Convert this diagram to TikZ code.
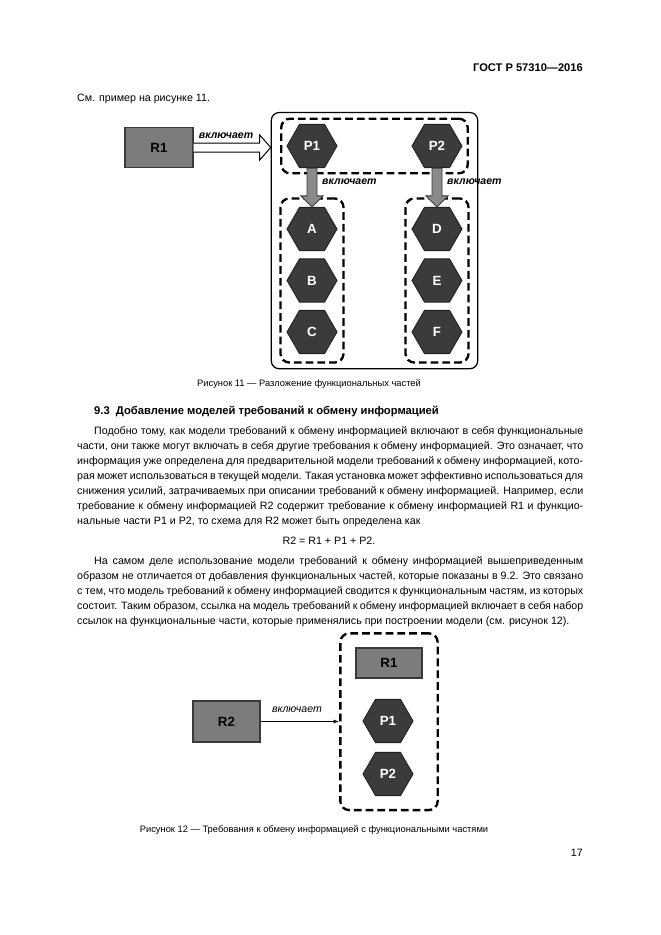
\documentclass[tikz,border=0pt]{standalone}
\usepackage{fontspec}
\setmainfont{Liberation Sans}
\usetikzlibrary{shapes.geometric,fit,calc,arrows.meta}
\definecolor{boxgray}{HTML}{7C7C7C}
\definecolor{boxedge}{HTML}{3A3A3A}
\definecolor{hexfill}{HTML}{3B3B3B}
\definecolor{hexedge}{HTML}{222222}
\definecolor{arrgray}{HTML}{8A8A8A}
\newcommand{\jl}[1]{\makebox[455.4pt][s]{#1}}
\newcommand{\jli}[1]{\makebox[440.1pt][s]{#1}}
\begin{document}
\begin{tikzpicture}[x=0.9pt,y=-0.9pt,
  bodytext/.style={inner sep=0pt,anchor=base west,font=\fontsize{9.6pt}{13.5pt}\selectfont},
  captext/.style={inner sep=0pt,anchor=base,font=\fontsize{8.4pt}{10pt}\selectfont},
  rbox/.style={draw=boxedge,fill=boxgray,line width=1.2pt,inner sep=0pt,font=\fontsize{12pt}{14pt}\selectfont\bfseries,text=black},
  hexnode/.style={regular polygon,regular polygon sides=6,minimum size=45pt,inner sep=0pt,fill=hexfill,draw=hexedge,line width=0.8pt,text=white,font=\fontsize{12pt}{14pt}\selectfont\bfseries},
  dashbox/.style={draw=black,line width=2.1pt,dash pattern=on 7pt off 3.6pt,rounded corners=8pt},
  outerbox/.style={draw=black,line width=1.1pt,rounded corners=7pt},
  incl/.style={inner sep=0pt,font=\fontsize{9.5pt}{11pt}\selectfont\bfseries\itshape},
  inclthin/.style={inner sep=0pt,font=\fontsize{9.5pt}{11pt}\selectfont\itshape},
  hollowarrow/.style={draw=black,fill=white,line width=0.9pt,line join=miter},
  grayarrow/.style={draw=boxedge,fill=arrgray,line width=0.8pt,line join=miter},
  thinarrow/.style={draw=black,line width=0.7pt,-{Latex[length=5pt,width=3.5pt]}}
]
\useasboundingbox[fill=white] (0,0) rectangle (661,935);

% header
\node[inner sep=0pt,anchor=base east,font=\fontsize{10pt}{12pt}\selectfont\bfseries] (hdr) at (583,71) {ГОСТ Р 57310—2016};
\node[bodytext] (see) at (77,101.5) {См. пример на рисунке 11.};

% ---------- Figure 11 ----------
\node[rbox,minimum width=61.2pt,minimum height=36pt] (R1) at (159,147.5) {R1};
\node[hexnode] (aP1) at (312,146) {P1};
\node[hexnode] (aP2) at (437,146) {P2};
\node[hexnode] (aA) at (312,229) {A};
\node[hexnode] (aB) at (312,280.5) {B};
\node[hexnode] (aC) at (312,332) {C};
\node[hexnode] (aD) at (437,229) {D};
\node[hexnode] (aE) at (437,280.5) {E};
\node[hexnode] (aF) at (437,332) {F};
\node[dashbox,fit=(aP1)(aP2),inner sep=4.7pt] (topgrp) {};
\node[dashbox,fit=(aA)(aC),inner xsep=5.4pt,inner ysep=7.6pt] (leftgrp) {};
\node[dashbox,fit=(aD)(aF),inner xsep=5.4pt,inner ysep=7.6pt] (rightgrp) {};
\node[outerbox,fit=(topgrp)(leftgrp)(rightgrp),inner xsep=7.2pt,inner ysep=4.5pt] (outer) {};

\coordinate (tip1) at (outer.west |- R1.east);
\draw[hollowarrow] ($(R1.east)+(0,-4.5)$) -- ($(tip1)+(-11,-4.5)$) -- ($(tip1)+(-11,-12.5)$) -- (tip1)
  -- ($(tip1)+(-11,12.5)$) -- ($(tip1)+(-11,4.5)$) -- ($(R1.east)+(0,4.5)$);
\node[incl] (l1) at ($(R1.east)!0.42!(tip1)+(0,-11.5)$) {включает};

\draw[grayarrow] ($(aP1.south)+(-5,0)$) -- ($(aA.north)+(-5,-11)$) -- ($(aA.north)+(-11,-11)$) -- (aA.north)
  -- ($(aA.north)+(11,-11)$) -- ($(aA.north)+(5,-11)$) -- ($(aP1.south)+(5,0)$) -- cycle;
\draw[grayarrow] ($(aP2.south)+(-5,0)$) -- ($(aD.north)+(-5,-11)$) -- ($(aD.north)+(-11,-11)$) -- (aD.north)
  -- ($(aD.north)+(11,-11)$) -- ($(aD.north)+(5,-11)$) -- ($(aP2.south)+(5,0)$) -- cycle;
\node[incl,anchor=west] (l2) at ($(aP1.south)+(10,14)$) {включает};
\node[incl,anchor=west] (l3) at ($(aP2.south)+(10,14)$) {включает};

\node[captext] (cap11) at (309,386.5) {Рисунок 11 — Разложение функциональных частей};

% ---------- Section text ----------
\node[inner sep=0pt,anchor=base west,font=\fontsize{10.1pt}{12pt}\selectfont\bfseries] (sec) at (94,414) {9.3\hspace{0.55em}Добавление моделей требований к обмену информацией};

\node[bodytext] (p1a) at (94,434.5) {\jli{Подобно тому, как модели требований к обмену информацией включают в себя функциональные}};
\node[bodytext] (p1b) at (77,449.5) {\jl{части, они также могут включать в себя другие требования к обмену информацией. Это означает, что}};
\node[bodytext] (p1c) at (77,464.5) {\jl{информация уже определена для предварительной модели требований к обмену информацией, кото-}};
\node[bodytext] (p1d) at (77,479.5) {\jl{рая может использоваться в текущей модели. Такая установка может эффективно использоваться для}};
\node[bodytext] (p1e) at (77,494.5) {\jl{снижения усилий, затрачиваемых при описании требований к обмену информацией. Например, если}};
\node[bodytext] (p1f) at (77,509.5) {\jl{требование к обмену информацией R2 содержит требование к обмену информацией R1 и функцио-}};
\node[bodytext] (p1g) at (77,524.5) {нальные части P1 и P2, то схема для R2 может быть определена как};

\node[bodytext,anchor=base] (formula) at (329,544.5) {R2 = R1 + P1 + P2.};

\node[bodytext] (p2a) at (94,564.5) {\jli{На самом деле использование модели требований к обмену информацией вышеприведенным}};
\node[bodytext] (p2b) at (77,579.5) {\jl{образом не отличается от добавления функциональных частей, которые показаны в 9.2. Это связано}};
\node[bodytext] (p2c) at (77,594.5) {\jl{с тем, что модель требований к обмену информацией сводится к функциональным частям, из которых}};
\node[bodytext] (p2d) at (77,609.5) {\jl{состоит. Таким образом, ссылка на модель требований к обмену информацией включает в себя набор}};
\node[bodytext] (p2e) at (77,624.5) {ссылок на функциональные части, которые применялись при построении модели (см. рисунок 12).};

% ---------- Figure 12 ----------
\node[rbox,minimum width=59.4pt,minimum height=27pt] (bR1) at (389,663) {R1};
\node[hexnode] (bP1) at (388,721) {P1};
\node[hexnode] (bP2) at (388,774) {P2};
\node[dashbox,fit=(bR1)(bP1)(bP2),inner xsep=13.5pt,inner ysep=12.6pt] (grp2) {};
\node[rbox,minimum width=60.3pt,minimum height=36.9pt] (R2) at (226.5,721.5) {R2};
\coordinate (tip2) at (grp2.west |- R2.east);
\draw[thinarrow] (R2.east) -- (tip2);
\node[inclthin] (l4) at ($(R2.east)!0.5!(tip2)+(-3,-11.5)$) {включает};

\node[captext] (cap12) at (314,832.5) {Рисунок 12 — Требования к обмену информацией с функциональными частями};

\node[inner sep=0pt,anchor=base east,font=\fontsize{9.6pt}{12pt}\selectfont] (pgno) at (583,856.5) {17};
\end{tikzpicture}
\end{document}
